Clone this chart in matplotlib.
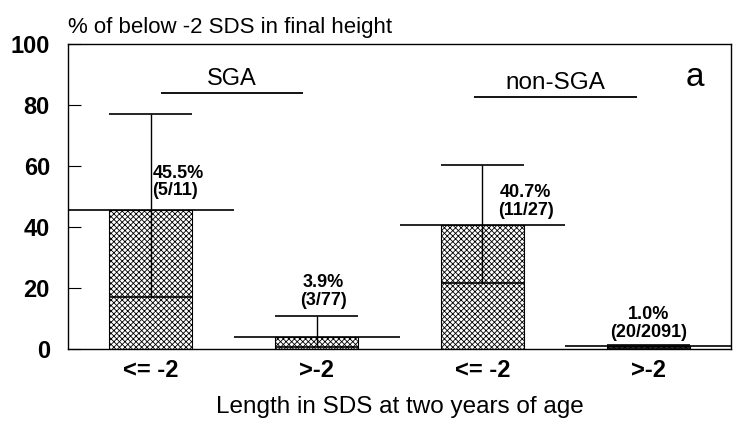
import numpy as np
import matplotlib
matplotlib.use("Agg")
import matplotlib.pyplot as plt

# data
categories = ["<= -2", ">-2", "<= -2", ">-2"]
pct = [45.5, 3.9, 40.7, 1.0]
ci_low = [17.0, 0.6, 21.5, 0.4]
ci_high = [77.0, 10.7, 60.5, 1.3]
pct_labels = ["45.5%", "3.9%", "40.7%", "1.0%"]
count_labels = ["(5/11)", "(3/77)", "(11/27)", "(20/2091)"]
groups = ["SGA", "non-SGA"]
group_line_y = [84.0, 82.8]

plt.rcParams["font.family"] = ["Liberation Sans", "DejaVu Sans"]
plt.rcParams["hatch.linewidth"] = 0.6

fig = plt.figure(figsize=(7.37, 4.29), dpi=100)
ax = fig.add_axes([0.0923, 0.1865, 0.8997, 0.7105])

x = np.arange(len(categories)) + 0.5
bw = 0.5

ax.bar(x, pct, width=bw, facecolor="white", edgecolor="black",
       hatch="xxxxxx", linewidth=0.8, zorder=2)

for xi, p, lo, hi in zip(x, pct, ci_low, ci_high):
    # line at the estimate, one unit wide
    ax.hlines(p, xi - 0.5, xi + 0.5, color="black", lw=1.2, zorder=3)
    # confidence interval
    ax.vlines(xi, lo, hi, color="black", lw=1.0, zorder=3)
    ax.hlines([lo, hi], xi - bw / 2, xi + bw / 2, color="black", lw=1.2, zorder=3)

# value labels
label_pos = [(0.51, 60.5, "left"), (1.54, 24.5, "center"),
             (2.76, 54.0, "center"), (3.5, 14.0, "center")]
for (lx, ly, ha), pl, cl in zip(label_pos, pct_labels, count_labels):
    ax.text(lx, ly, pl + "\n" + cl, ha=ha, va="top", fontsize=13,
            fontweight="bold", linespacing=1.05, zorder=4)

# group headers
group_cx = [0.99, 2.94]
group_half = [0.43, 0.49]
group_fs = [17, 17.5]
for g, gy, cx, half, fs in zip(groups, group_line_y, group_cx, group_half, group_fs):
    ax.hlines(gy, cx - half, cx + half, color="black", lw=1.3)
    ax.text(cx, gy + 1.0, g, ha="center", va="bottom", fontsize=fs)

ax.text(3.78, 89.0, "a", ha="center", va="center", fontsize=24)

ax.set_xlim(0, 4)
ax.set_ylim(0, 100)
ax.set_xticks(x)
ax.set_xticklabels(categories, fontsize=17, fontweight="bold")
ax.set_yticks([0, 20, 40, 60, 80, 100])
ax.tick_params(axis="y", direction="in", length=9, width=0.8, labelsize=17, pad=13)
for lbl in ax.get_yticklabels():
    lbl.set_fontweight("bold")
ax.tick_params(axis="x", length=0, pad=7)
for s in ax.spines.values():
    s.set_linewidth(1.0)

ax.set_xlabel("Length in SDS at two years of age", fontsize=17.5, labelpad=10)
fig.text(0.0923, 0.937, "% of below -2 SDS in final height", fontsize=16,
         ha="left", va="center")

fig.savefig("out.png", dpi=100)
